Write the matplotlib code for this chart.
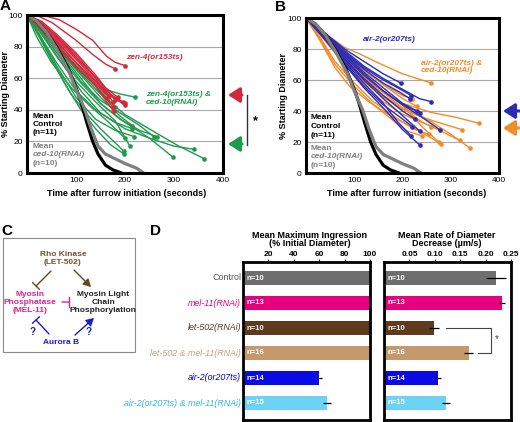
import matplotlib
matplotlib.use("Agg")
import matplotlib.pyplot as plt
import numpy as np

plt.rcParams['font.family'] = ['Liberation Sans', 'DejaVu Sans']

W, H = 520, 422

# ---- panel A/B: mean curves (time s, % starting diameter)
control_mean = [(0, 100), (20, 96), (40, 89), (60, 80), (83, 67), (100, 54), (110, 45),
                (122, 32), (134, 20), (145, 12), (160, 5), (175, 2), (193, 0)]
ced10_mean = [(0, 100), (20, 96), (40, 89), (60, 79), (86, 64), (100, 53), (117, 41),
              (131, 28), (145, 17), (160, 12), (180, 9), (200, 6), (224, 3), (238, 0)]

# zen-4(or153ts) traces
zen4 = [
    [(0, 100), (30, 100), (66, 97), (100, 91), (134, 84), (162, 74), (180, 70), (200, 68)],
    [(0, 100), (25, 99), (52, 95), (100, 84), (134, 75), (160, 69), (179, 66)],
    [(0, 100), (30, 95), (60, 87), (100, 75), (130, 64), (160, 54), (185, 48)],
    [(0, 100), (30, 94), (60, 85), (100, 72), (130, 62), (160, 51), (200, 43)],
    [(0, 100), (30, 93), (60, 83), (100, 70), (130, 60), (160, 50), (195, 45)],
    [(0, 100), (30, 92), (60, 82), (100, 68), (140, 55), (177, 39)],
    [(0, 100), (30, 95), (60, 86), (100, 73), (135, 62), (166, 48)],
    [(0, 100), (30, 93), (60, 84), (100, 70), (140, 58), (170, 50), (200, 44)],
    [(0, 100), (30, 94), (70, 84), (110, 70), (150, 57), (175, 45)],
    [(0, 100), (30, 96), (60, 88), (100, 76), (140, 62), (180, 46)],
    [(0, 100), (25, 92), (60, 80), (100, 67), (140, 55), (175, 42)],
]
# zen-4(or153ts) & ced-10(RNAi) traces
zen4_ced10 = [
    [(0, 100), (20, 90), (50, 72), (80, 55), (110, 40), (140, 28), (170, 18), (198, 12)],
    [(0, 100), (25, 88), (60, 68), (100, 48), (140, 34), (180, 27), (219, 23)],
    [(0, 100), (30, 90), (70, 74), (110, 58), (150, 46), (190, 38), (230, 30), (259, 23)],
    [(0, 100), (30, 92), (70, 78), (110, 64), (150, 54), (190, 50), (221, 48)],
    [(0, 100), (30, 88), (70, 70), (110, 52), (150, 38), (200, 28), (250, 22), (300, 17), (341, 15)],
    [(0, 100), (30, 90), (70, 75), (110, 60), (150, 44), (200, 32), (250, 22), (298, 10)],
    [(0, 100), (30, 91), (70, 77), (110, 63), (150, 50), (200, 37), (260, 26), (310, 17), (362, 9)],
    [(0, 100), (25, 86), (60, 66), (90, 50), (120, 38), (150, 28), (197, 14)],
    [(0, 100), (30, 85), (60, 70), (100, 52), (140, 40), (180, 32), (215, 28)],
    [(0, 100), (30, 93), (70, 80), (110, 66), (150, 52), (180, 42)],
    [(0, 100), (30, 89), (70, 72), (110, 57), (150, 44), (190, 34), (230, 27), (265, 23)],
    [(0, 100), (20, 86), (50, 70), (90, 54), (130, 42), (160, 34), (200, 22)],
    [(0, 100), (30, 92), (70, 76), (110, 62), (150, 48), (190, 36), (215, 30)],
    [(0, 100), (25, 90), (60, 74), (100, 58), (140, 45), (180, 33), (210, 17)],
]
# air-2(or207ts) traces
air2 = [
    [(0, 100), (40, 90), (80, 80), (120, 72), (160, 64), (197, 58)],
    [(0, 100), (40, 89), (80, 78), (120, 68), (160, 60), (190, 55), (218, 50)],
    [(0, 100), (40, 90), (80, 79), (120, 69), (160, 61), (200, 54), (235, 48), (260, 46)],
    [(0, 100), (40, 88), (80, 75), (120, 63), (160, 53), (200, 44), (236, 39)],
    [(0, 100), (40, 87), (80, 73), (120, 60), (160, 48), (200, 37), (236, 27)],
    [(0, 100), (40, 89), (80, 76), (120, 64), (160, 53), (200, 44), (240, 36), (277, 28)],
    [(0, 100), (40, 86), (80, 70), (120, 55), (160, 42), (200, 28), (236, 18)],
    [(0, 100), (40, 87), (80, 72), (120, 58), (160, 45), (190, 33), (218, 24)],
    [(0, 100), (40, 88), (80, 74), (120, 61), (160, 50), (200, 40), (225, 35)],
    [(0, 100), (40, 90), (80, 77), (120, 65), (160, 55), (200, 45), (230, 40)],
    [(0, 100), (40, 86), (80, 71), (120, 56), (160, 44), (195, 36), (220, 30)],
    [(0, 100), (40, 89), (80, 77), (120, 67), (160, 58), (195, 52), (215, 48)],
]
# air-2(or207ts) & ced-10(RNAi) traces
air2_ced10 = [
    [(0, 100), (40, 90), (80, 81), (110, 77), (150, 71), (200, 64), (260, 58)],
    [(0, 100), (40, 88), (80, 76), (120, 66), (160, 57), (200, 50), (220, 48)],
    [(0, 100), (40, 87), (80, 73), (120, 61), (160, 52), (200, 45), (260, 39), (310, 36), (359, 32)],
    [(0, 100), (40, 86), (80, 71), (120, 59), (160, 49), (200, 41), (260, 34), (323, 28)],
    [(0, 100), (40, 85), (80, 70), (120, 57), (160, 46), (200, 38), (260, 30), (319, 21)],
    [(0, 100), (40, 86), (80, 72), (120, 60), (160, 50), (200, 42), (260, 33), (300, 25), (340, 16)],
    [(0, 100), (30, 85), (60, 68), (90, 56), (130, 46), (180, 36), (230, 28), (279, 19)],
    [(0, 100), (30, 87), (60, 72), (100, 58), (140, 46), (190, 35), (225, 28), (254, 25)],
    [(0, 100), (40, 88), (80, 74), (120, 62), (160, 52), (200, 42), (240, 33), (260, 30)],
    [(0, 100), (40, 90), (80, 78), (120, 67), (160, 57), (200, 48), (230, 43)],
    [(0, 100), (30, 86), (60, 70), (100, 56), (140, 44), (180, 34), (210, 27), (240, 24)],
    [(0, 100), (40, 87), (80, 74), (120, 62), (160, 53), (200, 44), (240, 30), (275, 20)],
]

# ---- panel D
genotypes = ['Control', 'mel-11(RNAi)', 'let-502(RNAi)', 'let-502 & mel-11(RNAi)',
             'air-2(or207ts)', 'air-2(or207ts) & mel-11(RNAi)']
n_counts = ['n=10', 'n=13', 'n=10', 'n=16', 'n=14', 'n=15']
max_ingression = [100, 100, 100, 100, 60, 66]
max_ingression_err = [0, 0, 0, 0, 2, 3]
rate = [0.220, 0.232, 0.099, 0.167, 0.107, 0.122]
rate_err = [0.020, 0.007, 0.010, 0.009, 0.006, 0.008]
label_colors = ['#555555', '#e5007d', '#5a3a1e', '#c9a07a', '#0000cc', '#35b4e6']
bar_colors = ['#6e6e6e', '#e6007e', '#5e3b1c', '#c49a6c', '#0a0ae6', '#6dd3f5']

RED, GREEN, BLUE, ORANGE = '#d2283c', '#1f9a4c', '#2b2bb8', '#f28c28'
MGRAY = '#808080'

fig = plt.figure(figsize=(W / 100, H / 100), dpi=100)


def px_axes(x0, y0, x1, y1):
    return fig.add_axes([x0 / W, 1 - y1 / H, (x1 - x0) / W, (y1 - y0) / H])


def trace_panel(ax, groups):
    for traces, color in groups:
        for tr in traces:
            t, v = zip(*tr)
            ax.plot(t, v, color=color, lw=1.0, solid_capstyle='round', solid_joinstyle='round')
            ax.plot(t[-1], v[-1], 'o', color=color, ms=2.3)
    t, v = zip(*control_mean)
    ax.plot(t, v, color='black', lw=2.3, solid_capstyle='round', solid_joinstyle='round')
    t, v = zip(*ced10_mean)
    ax.plot(t, v, color=MGRAY, lw=2.3, solid_capstyle='round', solid_joinstyle='round')
    ax.set_xlim(0, 400)
    ax.set_ylim(0, 100)
    ax.set_xticks([100, 200, 300, 400])
    ax.set_yticks([0, 20, 40, 60, 80, 100])
    for g in [20, 40, 60, 80]:
        ax.axhline(g, color='#a8a8a8', lw=0.8, zorder=0)
    ax.tick_params(length=0, pad=3, labelsize=6)
    for s in ax.spines.values():
        s.set_linewidth(2.2)


def mean_labels(ax, x, ys):
    ax.text(x, ys[0], 'Mean', fontsize=6, fontweight='bold', va='center')
    ax.text(x, ys[1], 'Control', fontsize=6, fontweight='bold', va='center')
    ax.text(x, ys[2], '(n=11)', fontsize=6, fontweight='bold', va='center')
    ax.text(x, ys[3], 'Mean', fontsize=6, fontweight='bold', va='center', color=MGRAY)
    ax.text(x, ys[4], 'ced-10(RNAi)', fontsize=6, fontweight='bold', style='italic',
            va='center', color=MGRAY)
    ax.text(x, ys[5], '(n=10)', fontsize=6, fontweight='bold', va='center', color=MGRAY)


# Panel A
axA = px_axes(27, 15, 223, 173)
trace_panel(axA, [(zen4_ced10, GREEN), (zen4, RED)])
axA.text(259, 73, 'zen-4(or153ts)', color=RED, fontsize=6, fontweight='bold',
         style='italic', ha='center', va='center')
axA.text(243, 47, 'zen-4(or153ts) &\nced-10(RNAi)', color=GREEN, fontsize=6,
         fontweight='bold', style='italic', ha='left', va='center', linespacing=1.1)
mean_labels(axA, 12, [35.5, 30.5, 25.5, 17, 11.5, 6])
axA.text(0.51, -0.13, 'Time after furrow initiation (seconds)', transform=axA.transAxes,
         fontsize=6.5, fontweight='bold', ha='center', va='center')

# Panel B
axB = px_axes(306, 18, 499, 173)
trace_panel(axB, [(air2_ced10, ORANGE), (air2, BLUE)])
axB.text(172, 86, 'air-2(or207ts)', color=BLUE, fontsize=6, fontweight='bold',
         style='italic', ha='center', va='center')
axB.text(238, 68.5, 'air-2(or207ts) &\nced-10(RNAi)', color=ORANGE, fontsize=6,
         fontweight='bold', style='italic', ha='left', va='center', linespacing=1.1)
mean_labels(axB, 10, [35.5, 30, 24.5, 16, 10.5, 5])
axB.text(0.52, -0.13, 'Time after furrow initiation (seconds)', transform=axB.transAxes,
         fontsize=6.5, fontweight='bold', ha='center', va='center')

# Panel D bars
ypos = np.arange(len(genotypes))
axL = px_axes(243, 262, 370, 420)
axR = px_axes(384, 262, 511, 420)
for ax, vals, errs, xmax, ticks, ticklabels in [
        (axL, max_ingression, max_ingression_err, 100, [20, 40, 60, 80, 100],
         ['20', '40', '60', '80', '100']),
        (axR, rate, rate_err, 0.25, [0.05, 0.10, 0.15, 0.20, 0.25],
         ['0.05', '0.10', '0.15', '0.20', '0.25'])]:
    ax.barh(ypos, vals, height=0.56, color=bar_colors)
    ax.errorbar(vals, ypos, xerr=errs, fmt='none', ecolor='black', elinewidth=0.9, capsize=0)
    for i, n in enumerate(n_counts):
        ax.text(xmax * 0.03, ypos[i], n, color='white', fontsize=5.5, fontweight='bold',
                va='center', ha='left')
    ax.set_xlim(0, xmax)
    ax.set_ylim(5.68, -0.64)
    ax.set_yticks([])
    ax.set_xticks(ticks)
    ax.set_xticklabels(ticklabels)
    ax.xaxis.tick_top()
    ax.tick_params(axis='x', length=2, width=0.8, pad=1, labelsize=6)
    for lab in ax.get_xticklabels():
        lab.set_fontweight('bold')
    for s in ax.spines.values():
        s.set_linewidth(2.0)

for i, g in enumerate(genotypes):
    axL.text(-0.015, ypos[i], g, transform=axL.get_yaxis_transform(), ha='right',
             va='center', fontsize=6.4, color=label_colors[i],
             style='normal' if g == 'Control' else 'italic')

# significance bracket
axR.plot([0.122, 0.21, 0.21, 0.185], [2, 2, 3, 3], color='#444444', lw=0.8)
axR.text(0.222, 2.45, '*', fontsize=7, ha='center', va='center', color='#444444')

# ---- overlay for letters, labels, arrows and diagram (figure pixels)
ov = fig.add_axes([0, 0, 1, 1])
ov.set_xlim(0, W)
ov.set_ylim(H, 0)
ov.axis('off')
ov.patch.set_alpha(0)

for letter, x, y in [('A', 0, 6), ('B', 275, 7), ('C', 1, 231), ('D', 150, 231)]:
    ov.text(x, y, letter, fontsize=11, fontweight='bold', va='center', ha='left')

ov.text(6, 94, '% Starting Diameter', rotation=90, fontsize=6.5, fontweight='bold',
        ha='center', va='center')
ov.text(283, 96, '% Starting Diameter', rotation=90, fontsize=6.5, fontweight='bold',
        ha='center', va='center')

ov.text(310, 235, 'Mean Maximum Ingression', fontsize=6.5, fontweight='bold',
        ha='center', va='center')
ov.text(310, 244, '(% Initial Diameter)', fontsize=6.5, fontweight='bold',
        ha='center', va='center')
ov.text(447, 235, 'Mean Rate of Diameter', fontsize=6.5, fontweight='bold',
        ha='center', va='center')
ov.text(447, 244, 'Decrease (\u00b5m/s)', fontsize=6.5, fontweight='bold',
        ha='center', va='center')


def side_arrow(tip, tail, y, color):
    ov.annotate('', xy=(tip, y), xytext=(tail, y),
                arrowprops=dict(arrowstyle='-|>,head_length=0.7,head_width=0.45',
                                color=color, lw=2.2, shrinkA=0, shrinkB=0))


side_arrow(228, 242, 95, RED)
side_arrow(228, 242, 144, GREEN)
ov.plot([247, 247], [95, 145], color='#333333', lw=1.0)
ov.text(255, 121, '*', fontsize=9, fontweight='bold', ha='center', va='center')
side_arrow(503, 520, 111, BLUE)
side_arrow(503, 520, 128, ORANGE)

# Panel C diagram
BROWN, MAG, ABLUE = '#6b4420', '#e0208c', '#1a1ad0'
box = plt.Rectangle((3, 238), 132, 114, fill=False, edgecolor='#8a8a8a', lw=0.8)
ov.add_patch(box)
ov.text(63, 254, 'Rho Kinase', color='#7a5230', fontsize=6, fontweight='bold', ha='center', va='center')
ov.text(63, 262, '(LET-502)', color='#7a5230', fontsize=6, fontweight='bold', ha='center', va='center')
for yy, s in zip([294, 302, 310], ['Myosin', 'Phosphatase', '(MEL-11)']):
    ov.text(30, yy, s, color=MAG, fontsize=6, fontweight='bold', ha='center', va='center')
for yy, s in zip([294, 302, 310], ['Myosin Light', 'Chain', 'Phosphorylation']):
    ov.text(103, yy, s, color='#222222', fontsize=6, fontweight='bold', ha='center', va='center')
ov.text(61, 343, 'Aurora B', color=ABLUE, fontsize=6, fontweight='bold', ha='center', va='center')
ov.text(33, 332, '?', color=ABLUE, fontsize=7, fontweight='bold', ha='center', va='center')
ov.text(89, 332, '?', color=ABLUE, fontsize=7, fontweight='bold', ha='center', va='center')

bar_style = '-[,widthB=0.35,lengthB=0'
ov.annotate('', xy=(36, 286), xytext=(51, 271),
            arrowprops=dict(arrowstyle=bar_style, color=BROWN, lw=1.0, shrinkA=0, shrinkB=0))
ov.annotate('', xy=(91, 287), xytext=(74, 270),
            arrowprops=dict(arrowstyle='-|>,head_length=0.45,head_width=0.25', color=BROWN,
                            lw=1.0, shrinkA=0, shrinkB=0))
ov.annotate('', xy=(69, 302), xytext=(62, 302),
            arrowprops=dict(arrowstyle=bar_style, color=MAG, lw=1.0, shrinkA=0, shrinkB=0))
ov.annotate('', xy=(36, 320), xytext=(49, 334),
            arrowprops=dict(arrowstyle=bar_style, color=ABLUE, lw=1.0, shrinkA=0, shrinkB=0))
ov.annotate('', xy=(94, 318), xytext=(75, 335),
            arrowprops=dict(arrowstyle='-|>,head_length=0.45,head_width=0.25', color=ABLUE,
                            lw=1.0, shrinkA=0, shrinkB=0))

fig.savefig('out.png', dpi=100)
